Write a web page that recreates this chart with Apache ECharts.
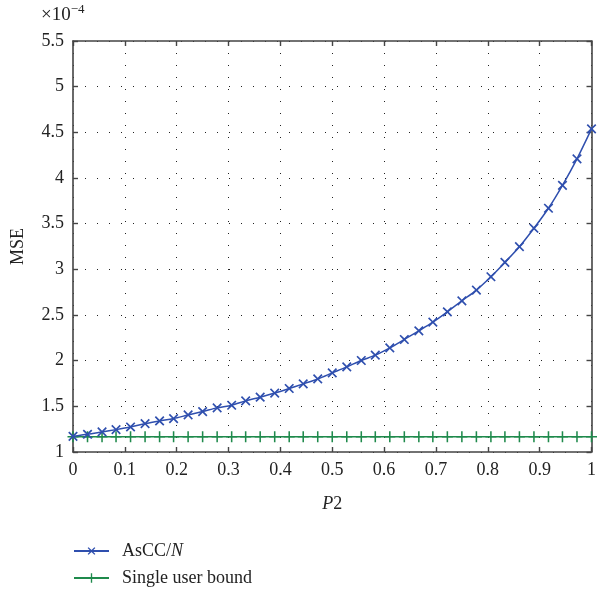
<!DOCTYPE html>
<html>
<head>
<meta charset="utf-8">
<script src="https://cdn.jsdelivr.net/npm/echarts@6/dist/echarts.min.js"></script>
<style>html,body{margin:0;padding:0;background:#fff;}#c{width:599px;height:592px;}</style>
</head>
<body>
<div id="c"></div>
<script>
// P2 sample points (x), and MSE values in units of 1e-4
const p2 = [0, 0.028, 0.056, 0.083, 0.111, 0.139, 0.167, 0.194, 0.222, 0.25, 0.278, 0.306, 0.333,
  0.361, 0.389, 0.417, 0.444, 0.472, 0.5, 0.528, 0.556, 0.583, 0.611, 0.639, 0.667, 0.694,
  0.722, 0.75, 0.778, 0.806, 0.833, 0.861, 0.889, 0.917, 0.944, 0.972, 1];
const ascc = [1.172, 1.194, 1.22, 1.245, 1.274, 1.31, 1.34, 1.366, 1.406, 1.443, 1.483, 1.512, 1.56,
  1.60, 1.645, 1.695, 1.746, 1.80, 1.866, 1.932, 2.002, 2.06, 2.14, 2.232, 2.327, 2.422,
  2.535, 2.655, 2.773, 2.919, 3.077, 3.248, 3.45, 3.669, 3.92, 4.21, 4.538];
const single = [1.167, 1.167, 1.167, 1.167, 1.167, 1.167, 1.167, 1.167, 1.167, 1.167, 1.167, 1.167, 1.167,
  1.167, 1.167, 1.167, 1.167, 1.167, 1.167, 1.167, 1.167, 1.167, 1.167, 1.167, 1.167, 1.167,
  1.167, 1.167, 1.167, 1.167, 1.167, 1.167, 1.167, 1.167, 1.167, 1.167, 1.167];
const seriesNames = ['AsCC/N', 'Single user bound'];

const FONT = 'Liberation Serif';
const FS = 18;
const plus = 'path://M4.3,0H5.7V4.3H10V5.7H5.7V10H4.3V5.7H0V4.3H4.3Z';
const axisCol = '#444';
const gridLine = {show: true, lineStyle: {color: '#222', width: 1, type: [1, 11]}};

const chart = echarts.init(document.getElementById('c'));
chart.setOption({
  animation: false,
  backgroundColor: '#fff',
  grid: {left: 73, right: 4, top: 41, bottom: 140, containLabel: false},
  graphic: [{
    type: 'text', left: 41, top: 3,
    style: {text: '{a|×10}{s|−4}', rich: {
      a: {fontFamily: FONT, fontSize: 19, fill: '#222', verticalAlign: 'bottom'},
      s: {fontFamily: FONT, fontSize: 13, fill: '#222', padding: [0, 0, 9, 0], verticalAlign: 'bottom'}
    }}
  }],
  xAxis: [{
    type: 'value', min: 0, max: 1, interval: 0.1,
    name: '{i|P}2', nameLocation: 'middle', nameGap: 43,
    nameTextStyle: {fontFamily: FONT, fontSize: FS, color: '#222', rich: {i: {fontFamily: FONT, fontSize: FS, fontStyle: 'italic', color: '#222'}}},
    axisLine: {show: true, onZero: false, lineStyle: {color: axisCol, width: 1.6}},
    axisTick: {show: true, inside: true, length: 5, lineStyle: {color: axisCol, width: 1.4}},
    axisLabel: {fontFamily: FONT, fontSize: FS, color: '#222', margin: 9},
    splitLine: gridLine
  }, {
    type: 'value', min: 0, max: 1, interval: 0.1, position: 'top',
    axisLine: {show: true, onZero: false, lineStyle: {color: axisCol, width: 1.6}},
    axisTick: {show: true, inside: true, length: 5, lineStyle: {color: axisCol, width: 1.4}},
    axisLabel: {show: false}, splitLine: {show: false}
  }],
  yAxis: [{
    type: 'value', min: 1, max: 5.5, interval: 0.5,
    name: 'MSE', nameLocation: 'middle', nameGap: 46, nameRotate: 90,
    nameTextStyle: {fontFamily: FONT, fontSize: FS, color: '#222'},
    axisLine: {show: true, onZero: false, lineStyle: {color: axisCol, width: 1.6}},
    axisTick: {show: true, inside: true, length: 5, lineStyle: {color: axisCol, width: 1.4}},
    axisLabel: {fontFamily: FONT, fontSize: FS, color: '#222', margin: 9},
    splitLine: gridLine
  }, {
    type: 'value', min: 1, max: 5.5, interval: 0.5, position: 'right',
    axisLine: {show: true, onZero: false, lineStyle: {color: axisCol, width: 1.6}},
    axisTick: {show: true, inside: true, length: 5, lineStyle: {color: axisCol, width: 1.4}},
    axisLabel: {show: false}, splitLine: {show: false}
  }],
  legend: {
    orient: 'vertical', left: 73, top: 542, height: 60, padding: 0,
    itemWidth: 35, itemHeight: 12, itemGap: 9,
    data: seriesNames,
    formatter: function (n) { return n === 'AsCC/N' ? '{a|AsCC/}{i|N}' : '{a|' + n + '}'; },
    textStyle: {fontFamily: FONT, fontSize: FS, color: '#222', padding: [0, 0, 0, 8], rich: {
      a: {fontFamily: FONT, fontSize: FS, color: '#222'},
      i: {fontFamily: FONT, fontSize: FS, color: '#222', fontStyle: 'italic'}
    }}
  },
  series: [{
    name: seriesNames[1], type: 'line',
    data: p2.map((x, i) => [x, single[i]]),
    symbol: plus, symbolSize: 11, showAllSymbol: true,
    lineStyle: {color: '#1f8a4c', width: 1.5},
    itemStyle: {color: '#1f8a4c'}, z: 2
  }, {
    name: seriesNames[0], type: 'line', smooth: 0.3,
    data: p2.map((x, i) => [x, ascc[i]]),
    symbol: plus, symbolRotate: 45, symbolSize: 12, showAllSymbol: true,
    lineStyle: {color: '#2f4fae', width: 1.5},
    itemStyle: {color: '#2f4fae'}, z: 3
  }]
});
</script>
</body>
</html>
